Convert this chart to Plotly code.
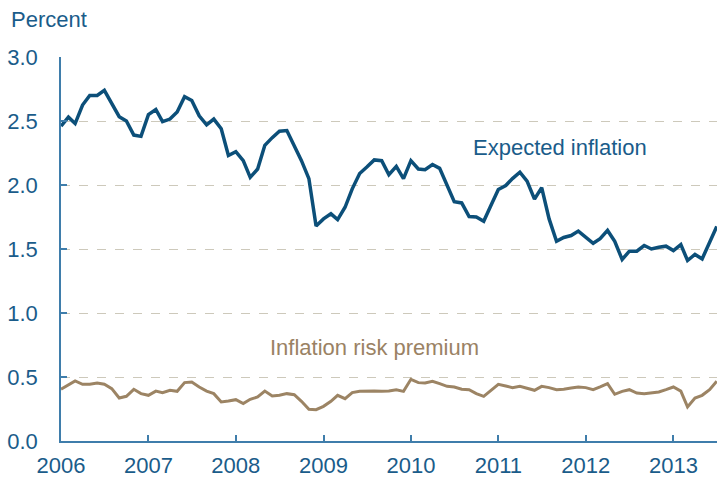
import pandas as pd
import plotly.graph_objects as go

months = pd.date_range("2006-01-01", "2013-07-01", freq="MS")

expected_inflation = [
    2.46, 2.53, 2.48, 2.625, 2.70, 2.70, 2.74, 2.64, 2.534, 2.50, 2.39, 2.38,
    2.55, 2.59, 2.495, 2.515, 2.57, 2.69, 2.66, 2.54, 2.47, 2.515, 2.44, 2.23,
    2.26, 2.19, 2.06, 2.125, 2.31, 2.37, 2.42, 2.425, 2.31, 2.19, 2.05, 1.68,
    1.735, 1.775, 1.73, 1.826, 1.97, 2.09, 2.14, 2.196, 2.19, 2.08, 2.145, 2.05,
    2.19, 2.125, 2.12, 2.16, 2.13, 2.00, 1.87, 1.86, 1.754, 1.75, 1.717, 1.84,
    1.965, 1.996, 2.05, 2.10, 2.03, 1.89, 1.98, 1.735, 1.56, 1.59, 1.605, 1.64,
    1.59, 1.545, 1.58, 1.645, 1.56, 1.418, 1.483, 1.483, 1.527, 1.50, 1.514, 1.522,
    1.488, 1.535, 1.41, 1.457, 1.423, 1.553, 1.676,
]

risk_premium = [
    0.404, 0.435, 0.469, 0.443, 0.443, 0.453, 0.443, 0.409, 0.336, 0.349, 0.404, 0.37,
    0.357, 0.39, 0.378, 0.396, 0.388, 0.456, 0.461, 0.422, 0.39, 0.37, 0.305, 0.312,
    0.323, 0.292, 0.326, 0.344, 0.39, 0.352, 0.357, 0.37, 0.362, 0.31, 0.248, 0.245,
    0.271, 0.31, 0.357, 0.331, 0.378, 0.388, 0.39, 0.39, 0.388, 0.39, 0.401, 0.388,
    0.482, 0.456, 0.453, 0.466, 0.448, 0.427, 0.422, 0.404, 0.401, 0.37, 0.349, 0.396,
    0.443, 0.43, 0.417, 0.427, 0.414, 0.396, 0.427, 0.417, 0.401, 0.404, 0.414, 0.422,
    0.417, 0.401, 0.422, 0.448, 0.365, 0.388, 0.401, 0.375, 0.37, 0.378, 0.383, 0.401,
    0.422, 0.39, 0.266, 0.336, 0.357, 0.401, 0.466,
]

year_ticks = [f"{y}-01-01" for y in range(2006, 2014)]
year_labels = [str(y) for y in range(2006, 2014)]
y_ticks = [0.0, 0.5, 1.0, 1.5, 2.0, 2.5, 3.0]
y_labels = ["0.0", "0.5", "1.0", "1.5", "2.0", "2.5", "3.0"]

BLUE = "#0c4f79"
TAN = "#9c8464"
TEXT_BLUE = "#1a5c8a"
AXIS = "#3f7dab"
FONT = "Liberation Sans, Arial, sans-serif"

W, H = 717, 477
L, T, B = 61, 57, 36
PW, PH = W - L, H - T - B

fig = go.Figure()
fig.add_trace(go.Scatter(x=months, y=expected_inflation, mode="lines",
                         line=dict(color=BLUE, width=3.5), showlegend=False))
fig.add_trace(go.Scatter(x=months, y=risk_premium, mode="lines",
                         line=dict(color=TAN, width=3), showlegend=False))

fig.add_annotation(text="Expected inflation", x="2010-09-08", y=2.29, xref="x", yref="y",
                   xanchor="left", yanchor="middle", showarrow=False,
                   font=dict(color=TEXT_BLUE, size=22, family=FONT))
fig.add_annotation(text="Inflation risk premium", x="2008-05-14", y=0.73, xref="x", yref="y",
                   xanchor="left", yanchor="middle", showarrow=False,
                   font=dict(color="#9a8264", size=22, family=FONT))
fig.add_annotation(text="Percent", x=(9 - L) / PW, y=1 + (T - 19) / PH,
                   xref="paper", yref="paper", xanchor="left", yanchor="middle",
                   showarrow=False, font=dict(color=TEXT_BLUE, size=22, family=FONT))

fig.update_layout(
    width=W, height=H,
    margin=dict(l=L, r=0, t=T, b=B, autoexpand=False),
    plot_bgcolor="white", paper_bgcolor="white",
    font=dict(family=FONT, color=TEXT_BLUE, size=22),
)

fig.update_xaxes(
    range=["2006-01-01", "2013-07-02"],
    tickvals=year_ticks, ticktext=year_labels,
    ticks="inside", ticklen=6, tickcolor=AXIS, tickwidth=1.5,
    showline=True, linecolor=AXIS, linewidth=1.5,
    showgrid=False, zeroline=False, automargin=False,
    ticklabelstandoff=4,
    tickfont=dict(size=22, color=TEXT_BLUE, family=FONT),
)
fig.update_yaxes(
    range=[0, 3.0],
    tickvals=y_ticks, ticktext=y_labels,
    ticks="inside", ticklen=6, tickcolor=AXIS, tickwidth=1.5,
    showline=True, linecolor=AXIS, linewidth=1.5,
    showgrid=True, gridcolor="#cdc9bb", griddash="dash", gridwidth=1,
    zeroline=False, automargin=False,
    ticklabelstandoff=17,
    tickfont=dict(size=22, color=TEXT_BLUE, family=FONT),
)

fig.write_html("out.html", config={"displayModeBar": False},
               post_script="document.body.style.margin='0';document.body.style.overflow='hidden';")
